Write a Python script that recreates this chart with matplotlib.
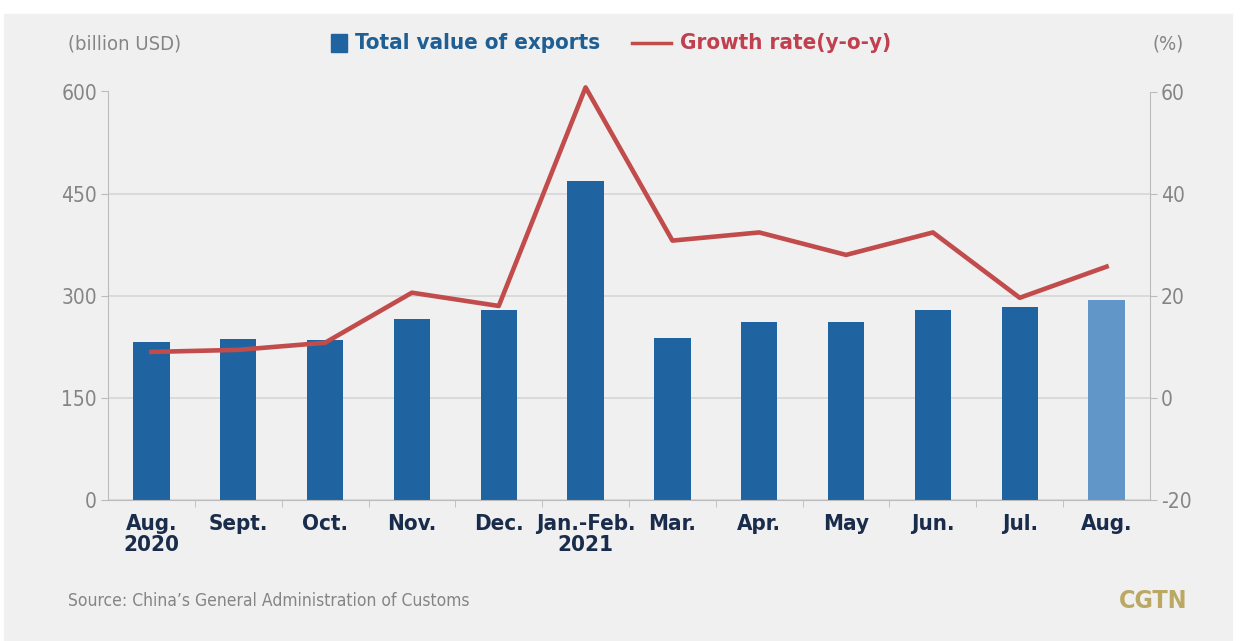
import matplotlib
matplotlib.use("Agg")
import matplotlib.pyplot as plt
from matplotlib.patches import Rectangle
from matplotlib.lines import Line2D

categories = ["Aug.\n2020", "Sept.", "Oct.", "Nov.", "Dec.", "Jan.-Feb.\n2021",
              "Mar.", "Apr.", "May", "Jun.", "Jul.", "Aug."]
exports = [232, 237, 235, 266, 279, 468, 238, 262, 262, 279, 284, 294]
growth = [9.0, 9.4, 10.8, 20.6, 18.0, 60.8, 30.8, 32.4, 28.0, 32.4, 19.6, 25.7]
left_ticks = [0, 150, 300, 450, 600]
right_ticks = [-20, 0, 20, 40, 60]

plt.rcParams["font.family"] = ["DejaVu Sans"]
plt.rcParams["font.stretch"] = "condensed"

bar_dark = "#1f64a0"
bar_light = "#6196c9"
red = "#c24b4b"
gray_txt = "#858585"
navy = "#1a2c4c"

fig = plt.figure(figsize=(12.43, 6.41), dpi=100)
fig.patch.set_facecolor("white")
fig.add_artist(Rectangle((4 / 1243, 0), 1228 / 1243, 1 - 14 / 641,
                         transform=fig.transFigure, color="#f0f0f0", zorder=0))

ax = fig.add_axes([108 / 1243, 1 - 500 / 641, 1042 / 1243, 408.5 / 641])
ax.set_facecolor("none")
x = list(range(len(categories)))
colors = [bar_dark] * (len(categories) - 1) + [bar_light]
ax.bar(x, exports, width=0.42, color=colors, zorder=2)
ax.set_xlim(-0.5, len(categories) - 0.5)
ax.set_ylim(0, 600)
ax.set_yticks(left_ticks)
ax.set_yticklabels([str(t) for t in left_ticks], color=gray_txt, fontsize=15,
                   fontstretch="condensed")
ax.yaxis.grid(True, color="#d6d6d6", linewidth=1.2, zorder=0)
ax.set_axisbelow(True)
ax.set_xticks(x)
ax.set_xticklabels(categories, fontsize=16, fontweight="bold", color=navy,
                   linespacing=1.1, fontstretch="condensed")
ax.set_xticks([i + 0.5 for i in x[:-1]], minor=True)
ax.tick_params(axis="x", which="major", length=0, pad=10)
ax.tick_params(axis="x", which="minor", length=5, color="#bbbbbb")
ax.tick_params(axis="y", length=5, color="#bbbbbb", pad=3)
for s in ["top", "right"]:
    ax.spines[s].set_visible(False)
for s in ["left", "bottom"]:
    ax.spines[s].set_color("#bbbbbb")

ax2 = ax.twinx()
ax2.plot(x, growth, color=red, linewidth=3.3, zorder=3, clip_on=False)
ax2.set_ylim(-20, 60)
ax2.set_yticks(right_ticks)
ax2.set_yticklabels([str(t) for t in right_ticks], color=gray_txt, fontsize=15,
                    fontstretch="condensed")
ax2.tick_params(axis="y", length=5, color="#bbbbbb", pad=3)
for s in ["top", "left", "bottom"]:
    ax2.spines[s].set_visible(False)
ax2.spines["right"].set_color("#bbbbbb")

fig.text(68 / 1243, 1 - 44 / 641, "(billion USD)", color=gray_txt, fontsize=14.5,
         va="center", ha="left")
fig.text(1184 / 1243, 1 - 44 / 641, "(%)", color=gray_txt, fontsize=14.5,
         va="center", ha="right")

fig.add_artist(Rectangle((331 / 1243, 1 - 52 / 641), 16 / 1243, 18 / 641,
                         transform=fig.transFigure, color=bar_dark))
fig.text(355 / 1243, 1 - 43 / 641, "Total value of exports", color="#1f5f94",
         fontsize=16, fontweight="bold", va="center", ha="left")
fig.add_artist(Line2D([632 / 1243, 671 / 1243], [1 - 43 / 641, 1 - 43 / 641],
                      transform=fig.transFigure, color=red, linewidth=2.5))
fig.text(680 / 1243, 1 - 43 / 641, "Growth rate(y-o-y)", color="#c0404f",
         fontsize=16, fontweight="bold", va="center", ha="left")

fig.text(68 / 1243, 1 - 601 / 641, "Source: China\u2019s General Administration of Customs",
         color=gray_txt, fontsize=12.5, va="center", ha="left")
fig.text(1187 / 1243, 1 - 601 / 641, "CGTN", color="#bba862", fontsize=18,
         fontweight="bold", va="center", ha="right")

fig.savefig("out.png", dpi=100, facecolor=fig.get_facecolor())
